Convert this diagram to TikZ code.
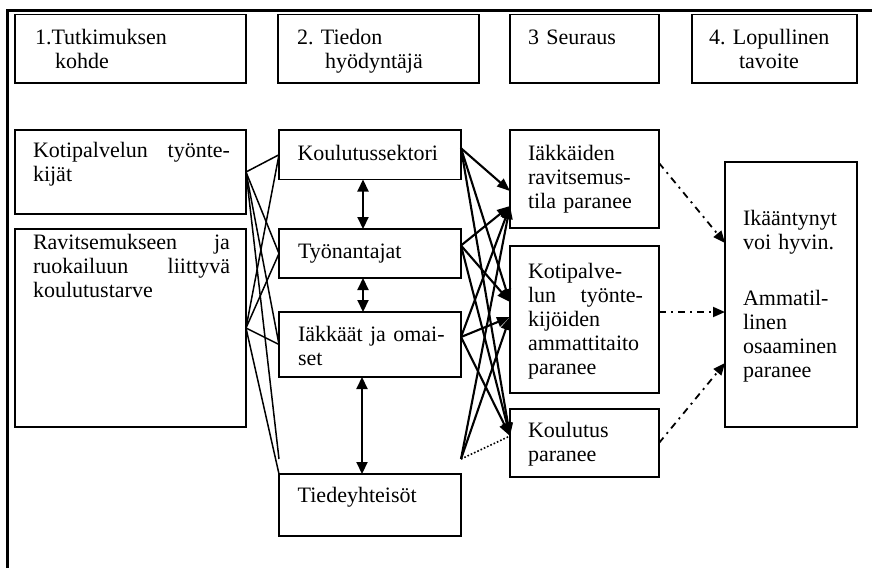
\documentclass[tikz,border=0pt]{standalone}
\usepackage{fontspec}
\setmainfont{Liberation Serif}
\usetikzlibrary{arrows.meta,calc}
\newcommand{\gapfill}{\hskip 0pt plus 1filll\relax}
\frenchspacing
\begin{document}
\begin{tikzpicture}[x=1pt,y=-1pt,
  box/.style={draw, line width=1.6pt, anchor=north west, inner sep=0pt, outer sep=0pt},
  txt/.style={anchor=north west, inner sep=0pt, outer sep=0pt, align=left, font=\fontsize{22}{24}\selectfont\frenchspacing},
  lline/.style={line width=1.5pt},
  arr/.style={line width=2.1pt, -{Triangle[length=13pt,width=10pt]}},
  darr/.style={line width=2.1pt, {Triangle[length=12pt,width=11pt]}-{Triangle[length=12pt,width=11pt]}},
  dd/.style={line width=1.8pt, dash pattern=on 7pt off 5pt on 2pt off 5pt, -{Triangle[length=12pt,width=10pt]}},
  dots/.style={line width=1.6pt, dotted}]
\useasboundingbox (0,0) rectangle (872,568);
% outer frame
\draw[line width=2.7pt] (7.5,568) -- (7.5,10.7) -- (872,10.7);
% header boxes
\node[box,minimum width=231pt,minimum height=68.5pt] (h1) at (15,14.5) {};
\node[box,minimum width=201pt,minimum height=68.5pt] (h2) at (278,14.5) {};
\node[box,minimum width=149pt,minimum height=68.5pt] (h3) at (510,14.5) {};
\node[box,minimum width=165pt,minimum height=68.5pt] (h4) at (692,14.5) {};
\node[txt,text width=200pt] (h1t) at (35,27.2) {\strut 1.Tutkimuksen\\\hspace*{20pt}kohde};
\node[txt,text width=170pt] (h2t) at (297,27.2) {\strut 2. Tiedon\\\hspace*{28pt}hyödyntäjä};
\node[txt,text width=120pt] (h3t) at (528,27.2) {\strut 3 Seuraus};
\node[txt,text width=140pt] (h4t) at (709,27.2) {\strut 4. Lopullinen\\\hspace*{30pt}tavoite};
% boxes
\node[box,minimum width=231pt,minimum height=84pt] (a1) at (15,130) {};
\node[box,minimum width=231pt,minimum height=198pt] (a2) at (15,229) {};
\node[box,minimum width=182pt,minimum height=49.5pt] (b1) at (279,130) {};
\node[box,minimum width=182pt,minimum height=49pt] (b2) at (279,229) {};
\node[box,minimum width=182pt,minimum height=65pt] (b3) at (279,312) {};
\node[box,minimum width=182pt,minimum height=62pt] (b4) at (279,474) {};
\node[box,minimum width=149pt,minimum height=98pt] (c1) at (510,130) {};
\node[box,minimum width=149pt,minimum height=147pt] (c2) at (510,246) {};
\node[box,minimum width=149pt,minimum height=68pt] (c3) at (510,409) {};
\node[box,minimum width=132pt,minimum height=265pt] (d1) at (725,162) {};
% texts
\node[txt,text width=197pt] (a1t) at (33,141) {\strut Kotipalvelun\gapfill työnte-\\kijät};
\node[txt,text width=197pt] (a2t) at (33,232.2) {\strut Ravitsemukseen\gapfill ja\\ruokailuun\gapfill liittyvä\\koulutustarve};
\node[txt,text width=160pt] (b1t) at (297.5,143.2) {\strut Koulutussektori};
\node[txt,text width=160pt] (b2t) at (298,241.2) {\strut Työnantajat};
\node[txt,text width=160pt] (b3t) at (298,324.2) {\strut Iäkkäät ja omai-\\set};
\node[txt,text width=160pt] (b4t) at (297.7,485.5) {\strut Tiedeyhteisöt};
\node[txt,text width=115pt] (c1t) at (528,143.2) {\strut Iäkkäiden\\ravitsemus-\\tila paranee};
\node[txt,text width=115pt] (c2t) at (528,261.2) {\strut Kotipalve-\\lun\gapfill työnte-\\kijöiden\\ammattitaito\\paranee};
\node[txt,text width=115pt] (c3t) at (528,420.2) {\strut Koulutus\\paranee};
\node[txt,text width=112pt] (d1t) at (743,208.2) {\strut Ikääntynyt\\voi hyvin.\\[32pt]Ammatil-\\linen\\osaaminen\\paranee};
% left connectors
\coordinate (b4l) at ($(b4.north west)+(0,-15)$);
\draw[lline] (a1.east) -- (b1.west);
\draw[lline] (a1.east) -- (b2.west);
\draw[lline] (a1.east) -- (b3.west);
\draw[lline] (a1.east) -- (b4l);
\draw[lline] (a2.east) -- (b1.west);
\draw[lline] (a2.east) -- (b2.west);
\draw[lline] (a2.east) -- (b3.west);
\draw[lline] (a2.east) -- (b4.north west);
% vertical double arrows
\draw[darr] ($(b1.south)+(-7,0)$) -- ($(b2.north)+(-7,0)$);
\draw[darr] ($(b2.south)+(-7,0)$) -- ($(b3.north)+(-7,0)$);
\draw[darr] ($(b3.south)+(-8,0)$) -- ($(b4.north)+(-8,0)$);
% right connectors
\coordinate (s1) at ($(b1.east)+(0,-6.5)$);
\coordinate (s2) at ($(b2.east)+(0,-8)$);
\coordinate (s3) at ($(b3.east)+(0,-7.5)$);
\coordinate (s4) at ($(b4.north east)+(0,-15)$);
\coordinate (t1a) at ($(c1.west)+(0,12)$);
\coordinate (t1b) at ($(c1.west)+(0,27)$);
\coordinate (t2a) at ($(c2.west)+(0,-17.5)$);
\coordinate (t2b) at ($(c2.west)+(0,-2.5)$);
\coordinate (t3) at ($(c3.west)+(0,-7)$);
\draw[arr] (s1) -- (t1a);
\draw[arr] (s1) -- (t2a);
\draw[arr] (s1) -- (t3);
\draw[arr] (s2) -- (t1b);
\draw[arr] (s2) -- (t2a);
\draw[arr] (s2) -- (t3);
\draw[arr] (s3) -- (t1b);
\draw[arr] (s3) -- (t2b);
\draw[arr] (s3) -- (t3);
\draw[arr] (s4) -- (t1b);
\draw[arr] (s4) -- (t2b);
\draw[dots] (s4) -- (t3);
% dash-dot arrows to final goal
\draw[dd] ($(c1.east)+(0,-16)$) -- ($(d1.west)+(0,-51.5)$);
\draw[dd] ($(c2.east)+(0,-7.5)$) -- ($(d1.west)+(0,17.5)$);
\draw[dd] (c3.east) -- ($(d1.west)+(0,68.5)$);
\end{tikzpicture}
\end{document}
